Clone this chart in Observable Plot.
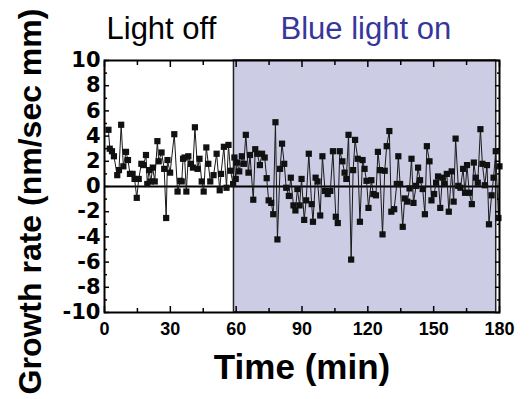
<!DOCTYPE html>
<html>
<head>
<meta charset="utf-8">
<script src="https://cdn.jsdelivr.net/npm/d3@7"></script>
<script src="https://cdn.jsdelivr.net/npm/@observablehq/plot@0.6"></script>
<style>
  html, body { margin: 0; padding: 0; background: #fff; }
  #chart svg { display: block; }
</style>
</head>
<body>
<div id="chart"></div>
<script>
const times = [1.8,2.4,3.4,4.3,5.8,6.6,7.6,8.6,9.8,10.7,11.6,12.8,13.7,14.7,15.6,16.8,17.8,18.9,19.5,20.3,21.1,22.0,22.9,24.1,24.7,26.0,27.2,28.1,28.7,29.9,
31.8,33.3,34.5,35.2,35.8,36.5,37.3,38.2,39.4,40.3,41.2,42.4,43.3,44.3,45.2,46.4,47.3,48.2,49.7,51.1,52.5,53.1,54.4,55.6,56.5,57.4,58.6,59.2,59.8,60.4,
61.4,62.6,63.5,64.4,65.6,66.3,67.8,68.7,69.6,70.8,71.8,73.0,73.9,74.8,76.0,76.9,77.9,78.8,80.0,80.9,81.9,82.8,84.0,84.9,86.1,87.0,87.9,88.9,89.8,
91.0,91.9,93.1,94.4,95.0,96.2,97.1,98.3,99.3,100.5,101.7,102.9,104.1,105.4,106.3,107.2,108.4,109.4,110.2,111.2,112.4,113.3,114.2,115.4,116.4,117.6,118.5,119.4,
120.3,121.6,122.5,123.7,124.6,125.5,126.7,127.7,128.6,129.8,130.7,132.0,133.2,133.9,134.7,135.9,136.8,138.0,139.0,139.9,140.8,142.0,142.9,143.8,145.0,146.0,146.9,148.1,149.0,
150.2,151.1,152.0,153.0,154.0,154.8,156.0,156.9,158.2,159.1,160.0,161.2,162.2,163.4,164.3,165.2,166.2,167.4,168.3,169.2,170.1,171.3,172.2,173.3,174.3,175.2,176.4,177.3,178.3,179.5,180.0];
const rates = [4.5,3.0,2.8,2.4,0.9,1.3,4.9,1.6,2.75,2.1,1.0,1.0,0.6,-0.9,0.6,1.8,1.7,2.5,0.2,1.3,0.4,1.5,0.4,3.6,2.0,2.7,1.4,-2.5,2.1,1.1,
4.15,-0.4,0.45,0.4,2.2,2.3,-0.4,2.4,1.8,1.5,4.7,1.4,2.2,0.4,-0.4,3.1,1.8,0.4,0.9,2.6,-0.3,1.0,3.15,-0.1,3.3,1.25,0.2,2.3,0.6,1.9,
1.2,2.4,1.8,4.1,1.1,2.5,-1.05,2.96,2.6,1.7,2.6,2.3,0.66,-1.1,-1.3,-2.2,5.1,-4.2,1.4,3.4,1.8,-0.1,-0.75,0.7,-1.5,-1.9,-0.2,-1.5,0.6,
-2.65,-1.1,2.6,-1.4,-2.8,0.7,0.4,-2.3,2.4,-0.35,-0.6,-0.35,2.8,-2.4,-2.9,2.8,2.0,1.1,0.6,4.1,-5.8,1.3,3.7,2.2,-2.8,2.1,1.4,0.45,
-1.7,0.5,-0.6,-0.7,2.75,1.3,-3.8,1.25,3.2,4.4,-2.0,-1.8,0.2,2.4,0.2,-3.2,-0.95,-1.2,-0.15,2.2,-1.3,0.05,1.5,0.5,-0.2,-2.2,3.2,2.0,-1.1,
-0.6,0.3,0.8,-1.7,0.7,0.2,1.0,-2.0,1.2,-1.2,3.8,0.05,-0.1,1.4,-0.5,1.7,-0.5,-1.4,1.9,0.7,0.3,4.55,1.8,0.1,1.7,-3.0,-0.7,0.7,2.8,-2.5,1.6];

const lightOnStart = [59];
const lightOnEnd = [178.5];
const xTicks = [0, 30, 60, 90, 120, 150, 180];
const xMinorTicks = [15, 45, 75, 105, 135, 165];
const yTicks = [-10, -8, -6, -4, -2, 0, 2, 4, 6, 8, 10];
const yMinorTicks = [-9, -7, -5, -3, -1, 1, 3, 5, 7, 9];
const titleLeft = ["Light off"];
const titleRight = ["Blue light on"];
const xTitle = ["Time (min)"];
const yTitle = ["Growth rate (nm/sec mm)"];

const data = times.map((t, i) => ({t, v: rates[i]}));
const band = lightOnStart.map((s, i) => ({x1: s, x2: lightOnEnd[i], y1: -10, y2: 10}));

const fmt = d => String(d);
const none = () => "";

const chart = Plot.plot({
  width: 531,
  height: 399,
  marginLeft: 104,
  marginRight: 32,
  marginTop: 60,
  marginBottom: 87,
  x: {domain: [0, 180]},
  y: {domain: [-10, 10]},
  marks: [
    Plot.rect(band, {x1: "x1", x2: "x2", y1: "y1", y2: "y2", fill: "#ccccE4", stroke: "#222", strokeWidth: 1.5}),
    Plot.ruleY([0], {stroke: "#000", strokeWidth: 2}),
    Plot.line(data, {x: "t", y: "v", stroke: "#1a1a1a", strokeWidth: 1}),
    Plot.dot(data, {x: "t", y: "v", symbol: "square", r: 3.5, fill: "#111", stroke: null}),
    Plot.frame({stroke: "#000", strokeWidth: 2}),
    // inward ticks
    Plot.axisX({anchor: "bottom", ticks: xTicks, tickSize: -6, tickFormat: none, label: null, strokeWidth: 1.5}),
    Plot.axisX({anchor: "bottom", ticks: xMinorTicks, tickSize: -4, tickFormat: none, label: null, strokeWidth: 1.5}),
    Plot.axisX({anchor: "top", ticks: xTicks, tickSize: -6, tickFormat: none, label: null, strokeWidth: 1.5}),
    Plot.axisX({anchor: "top", ticks: xMinorTicks, tickSize: -4, tickFormat: none, label: null, strokeWidth: 1.5}),
    Plot.axisY({anchor: "left", ticks: yTicks, tickSize: -5, tickFormat: none, label: null, strokeWidth: 1.5}),
    Plot.axisY({anchor: "left", ticks: yMinorTicks, tickSize: -3, tickFormat: none, label: null, strokeWidth: 1.5}),
    Plot.axisY({anchor: "right", ticks: yTicks, tickSize: -5, tickFormat: none, label: null, strokeWidth: 1.5}),
    Plot.axisY({anchor: "right", ticks: yMinorTicks, tickSize: -3, tickFormat: none, label: null, strokeWidth: 1.5}),
    // tick labels
    Plot.axisX({anchor: "bottom", ticks: xTicks, tickSize: 0, tickPadding: 10, tickFormat: fmt, label: null,
      fontFamily: "Liberation Sans, Arial, sans-serif", fontSize: 18, fontWeight: "bold", fill: "#000"}),
    Plot.axisY({anchor: "left", ticks: yTicks, tickSize: 0, tickPadding: 4, tickFormat: fmt, label: null,
      fontFamily: "DejaVu Sans, sans-serif", fontSize: 21, fontWeight: "bold", fill: "#000"}),
    // titles
    Plot.text(titleLeft, {frameAnchor: "top-left", text: d => d, textAnchor: "start", lineAnchor: "bottom", dx: 2, dy: -22,
      fontFamily: "Liberation Sans, Arial, sans-serif", fontSize: 31, fill: "#000"}),
    Plot.text(titleRight, {frameAnchor: "top-left", text: d => d, textAnchor: "start", lineAnchor: "bottom", dx: 176, dy: -22,
      fontFamily: "Liberation Sans, Arial, sans-serif", fontSize: 31, fill: "#36369c"}),
    Plot.text(xTitle, {frameAnchor: "bottom", text: d => d, textAnchor: "middle", lineAnchor: "bottom", dy: 66,
      fontFamily: "Liberation Sans, Arial, sans-serif", fontSize: 35, fontWeight: "bold", fill: "#000"}),
    Plot.text(yTitle, {frameAnchor: "left", text: d => d, textAnchor: "middle", lineAnchor: "bottom", rotate: -90, dx: -64, dy: 15,
      fontFamily: "Liberation Sans, Arial, sans-serif", fontSize: 32, fontWeight: "bold", fill: "#000"})
  ]
});
document.getElementById("chart").appendChild(chart);
</script>
</body>
</html>
